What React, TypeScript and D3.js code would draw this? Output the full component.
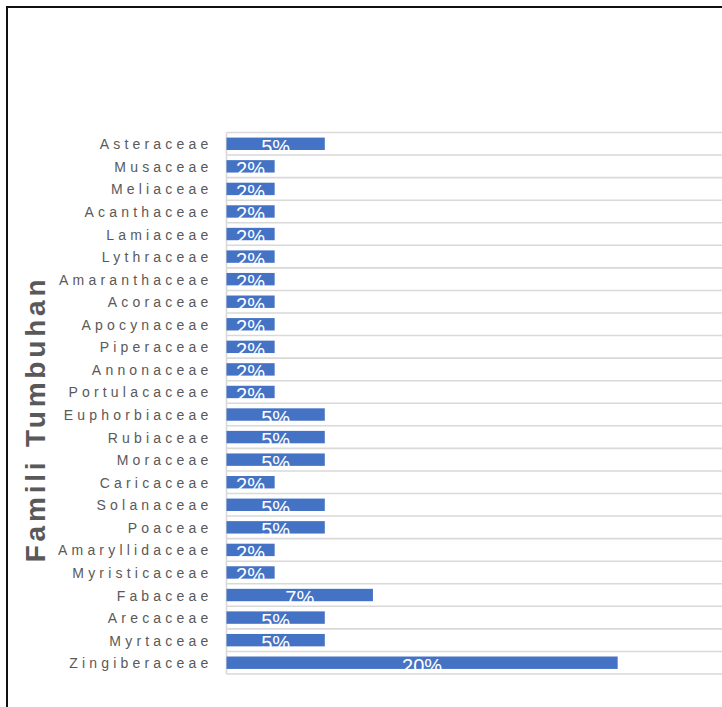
import React from "react";
import * as d3 from "d3";

const categories = [
  "Asteraceae", "Musaceae", "Meliaceae", "Acanthaceae", "Lamiaceae", "Lythraceae",
  "Amaranthaceae", "Acoraceae", "Apocynaceae", "Piperaceae", "Annonaceae", "Portulacaceae",
  "Euphorbiaceae", "Rubiaceae", "Moraceae", "Caricaceae", "Solanaceae", "Poaceae",
  "Amaryllidaceae", "Myristicaceae", "Fabaceae", "Arecaceae", "Myrtaceae", "Zingiberaceae",
];
const percentages = [
  4.9, 2.4, 2.4, 2.4, 2.4, 2.4,
  2.4, 2.4, 2.4, 2.4, 2.4, 2.4,
  4.9, 4.9, 4.9, 2.4, 4.9, 4.9,
  2.4, 2.4, 7.3, 4.9, 4.9, 19.5,
];
const barLabels = [
  "5%", "2%", "2%", "2%", "2%", "2%",
  "2%", "2%", "2%", "2%", "2%", "2%",
  "5%", "5%", "5%", "2%", "5%", "5%",
  "2%", "2%", "7%", "5%", "5%", "20%",
];
const axisTitle = "Famili Tumbuhan";
const xDomainMax = 25;

const W = 722;
const H = 707;
const plotLeft = 226.5;
const plotTop = 132.5;
const plotBottom = 674;

export default function App() {
  const x = d3.scaleLinear().domain([0, xDomainMax]).range([plotLeft, plotLeft + 501.5]);
  const y = d3.scaleBand<string>().domain(categories).range([plotTop, plotBottom]).paddingInner(0.45).paddingOuter(0.225);
  const band = y.bandwidth();
  const gridYs = d3.range(categories.length + 1).map((i) => plotTop + i * ((plotBottom - plotTop) / categories.length));
  const grey = "#595959";

  return (
    <svg width={W} height={H} style={{ position: "fixed", left: 0, top: 0, background: "#fff" }}>
      <rect x={0} y={0} width={W} height={H} fill="#fff" />
      <rect x={7} y={7} width={W + 20} height={H + 20} fill="none" stroke="#111" strokeWidth={2} />
      {gridYs.map((gy, i) => (
        <line key={"g" + i} x1={plotLeft} x2={W} y1={gy} y2={gy} stroke="#d9d9d9" strokeWidth={1.6} />
      ))}
      <line x1={plotLeft} x2={plotLeft} y1={plotTop} y2={plotBottom} stroke="#d9d9d9" strokeWidth={1.6} />
      {categories.map((c, i) => {
        const by = y(c)!;
        const cy = by + band / 2;
        return (
          <g key={c}>
            <rect x={x(0)} y={by} width={x(percentages[i]) - x(0)} height={band} fill="#4472c4" />
            <text
              x={(x(0) + x(percentages[i])) / 2}
              y={cy + 10}
              textAnchor="middle"
              fill="#ffffff"
              fontFamily="'Liberation Sans', Arial, sans-serif"
              fontSize={20}
            >
              {barLabels[i]}
            </text>
            <text
              x={212.5}
              y={cy + 5.5}
              textAnchor="end"
              fill={grey}
              fontFamily="'Liberation Sans', Arial, sans-serif"
              fontSize={14}
              letterSpacing={4.2}
            >
              {c}
            </text>
          </g>
        );
      })}
      <text
        transform={`translate(45, 419) rotate(-90)`}
        textAnchor="middle"
        fill={grey}
        fontFamily="'Liberation Sans', Arial, sans-serif"
        fontWeight="bold"
        fontSize={28}
        letterSpacing={3.8}
      >
        {axisTitle}
      </text>
    </svg>
  );
}
